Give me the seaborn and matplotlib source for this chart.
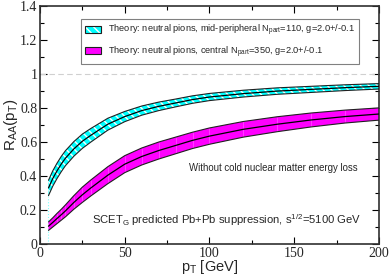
import numpy as np
import matplotlib
matplotlib.use("Agg")
import matplotlib.pyplot as plt
import seaborn as sns
import pandas as pd
from matplotlib.ticker import MultipleLocator
from matplotlib.patches import Patch
from matplotlib.legend_handler import HandlerTuple

# transverse momentum grid [GeV]
pt = [5, 7.5, 10, 12.5, 15, 20, 25, 30, 40, 50, 60, 70, 80, 90, 100, 120, 140, 160, 180, 200]

# mid-peripheral, Npart=110
mid_center = [0.33, 0.385, 0.43, 0.47, 0.505, 0.56, 0.605, 0.64, 0.705, 0.75, 0.785, 0.81,
              0.83, 0.85, 0.865, 0.885, 0.90, 0.91, 0.92, 0.928]
mid_halfw = [0.045, 0.045, 0.045, 0.045, 0.044, 0.043, 0.042, 0.04, 0.035, 0.03, 0.027, 0.025,
             0.023, 0.022, 0.021, 0.02, 0.019, 0.018, 0.017, 0.016]

# central, Npart=350
cen_center = [0.105, 0.127, 0.15, 0.172, 0.195, 0.245, 0.29, 0.33, 0.405, 0.47, 0.515, 0.55,
              0.58, 0.61, 0.635, 0.675, 0.705, 0.73, 0.75, 0.765]
cen_halfw = [0.025, 0.027, 0.03, 0.032, 0.035, 0.04, 0.045, 0.047, 0.05, 0.05, 0.05, 0.05,
             0.049, 0.048, 0.048, 0.046, 0.044, 0.041, 0.038, 0.036]

labels = ["Theory: neutral pions, mid-peripheral N$_{\\rm part}$=110, g=2.0+/-0.1",
          "Theory: neutral pions, central N$_{\\rm part}$=350, g=2.0+/-0.1"]

sns.set_theme(style="ticks")
plt.rcParams["font.family"] = ["Liberation Sans", "DejaVu Sans"]
plt.rcParams["hatch.linewidth"] = 1.0
plt.rcParams["hatch.color"] = "white"
plt.rcParams["mathtext.fontset"] = "custom"
plt.rcParams["mathtext.rm"] = "Liberation Sans"
plt.rcParams["mathtext.it"] = "Liberation Sans"

df = pd.DataFrame({"pt": pt, "mid": mid_center, "cen": cen_center})
mid_lo = np.array(mid_center) - np.array(mid_halfw)
mid_hi = np.array(mid_center) + np.array(mid_halfw)
cen_lo = np.array(cen_center) - np.array(cen_halfw)
cen_hi = np.array(cen_center) + np.array(cen_halfw)

fig = plt.figure(figsize=(3.9, 2.77), dpi=100)
ax = fig.add_axes([0.1026, 0.119, 0.869, 0.859])

ax.axhline(1.0, color="#d0d0d0", lw=0.8, ls=(0, (5, 3)), zorder=1)

# cyan hatched band
ax.fill_between(pt, mid_lo, mid_hi, facecolor="#00ffff", edgecolor="none", lw=0, zorder=2)
ax.fill_between(pt, mid_lo, mid_hi, facecolor="none", edgecolor="white",
                hatch="\\\\\\\\", lw=0, zorder=2)
ax.plot(pt, mid_lo, color="#202020", lw=0.8, zorder=3)
ax.plot(pt, mid_hi, color="#202020", lw=0.8, zorder=3)
sns.lineplot(data=df, x="pt", y="mid", color="black", lw=0.9, ax=ax, zorder=3)
ax.vlines(pt[0], 0, mid_lo[0], color="#80ffff", lw=0.8, ls=":", zorder=2)

# magenta band
ax.fill_between(pt, cen_lo, cen_hi, facecolor="#ff00ff", edgecolor="none", lw=0, zorder=2)
ax.vlines(pt[2:], cen_lo[2:], cen_hi[2:], color="white", lw=0.5, alpha=0.35, zorder=2)
ax.plot(pt, cen_lo, color="#202020", lw=0.8, zorder=3)
ax.plot(pt, cen_hi, color="#202020", lw=0.8, zorder=3)
sns.lineplot(data=df, x="pt", y="cen", color="black", lw=0.9, ax=ax, zorder=3)

ax.set_xlim(0, 200)
ax.set_ylim(0, 1.4)
ax.xaxis.set_minor_locator(MultipleLocator(25))
ax.yaxis.set_minor_locator(MultipleLocator(0.1))
ax.set_xticks([0, 50, 100, 150, 200])
ax.set_xticklabels(["0", "50", "100", "150", "200"])
ax.set_yticks([0, 0.2, 0.4, 0.6, 0.8, 1.0, 1.2, 1.4])
ax.set_yticklabels(["0", "0.2", "0.4", "0.6", "0.8", "1", "1.2", "1.4"])
ax.tick_params(which="both", direction="in", top=True, right=True, color="black")
ax.tick_params(which="major", length=5, width=0.8, pad=2)
ax.tick_params(which="minor", length=3, width=0.8)
for t in ax.get_xticklabels() + ax.get_yticklabels():
    t.set_fontfamily("Liberation Serif")
    t.set_fontsize(10)
for s in ax.spines.values():
    s.set_linewidth(1.2)
    s.set_color("#303030")

ax.set_xlabel("p$_{\\rm T}$ [GeV]", fontsize=10.5, labelpad=-1)
ax.set_ylabel("R$_{\\rm AA}$(p$_{\\rm T}$)", fontsize=11, labelpad=0)

handles = [(Patch(facecolor="#00ffff", edgecolor="white", hatch="\\\\\\\\", lw=0),
            Patch(facecolor="none", edgecolor="#202020", lw=0.8)),
           Patch(facecolor="#ff00ff", edgecolor="#202020", lw=0.8)]
leg = ax.legend(handles, labels, loc="upper left", bbox_to_anchor=(0.121, 0.945),
                handler_map={tuple: HandlerTuple(ndivide=1, pad=0)},
                fontsize=6.7, frameon=True, fancybox=False, edgecolor="#606060",
                handlelength=1.75, handleheight=0.8, handletextpad=0.7,
                borderpad=0.45, labelspacing=0.65, borderaxespad=0)
leg.get_frame().set_linewidth(0.8)

ax.text(0.687, 0.32, "Without cold nuclear matter energy loss", transform=ax.transAxes,
        fontsize=6.9, ha="center", va="center")
ax.text(0.55, 0.10, "SCET$_{\\rm G}$ predicted Pb+Pb suppression, s$^{1/2}$=5100 GeV",
        transform=ax.transAxes, fontsize=8.1, ha="center", va="center")

fig.savefig("out.png", dpi=100)
